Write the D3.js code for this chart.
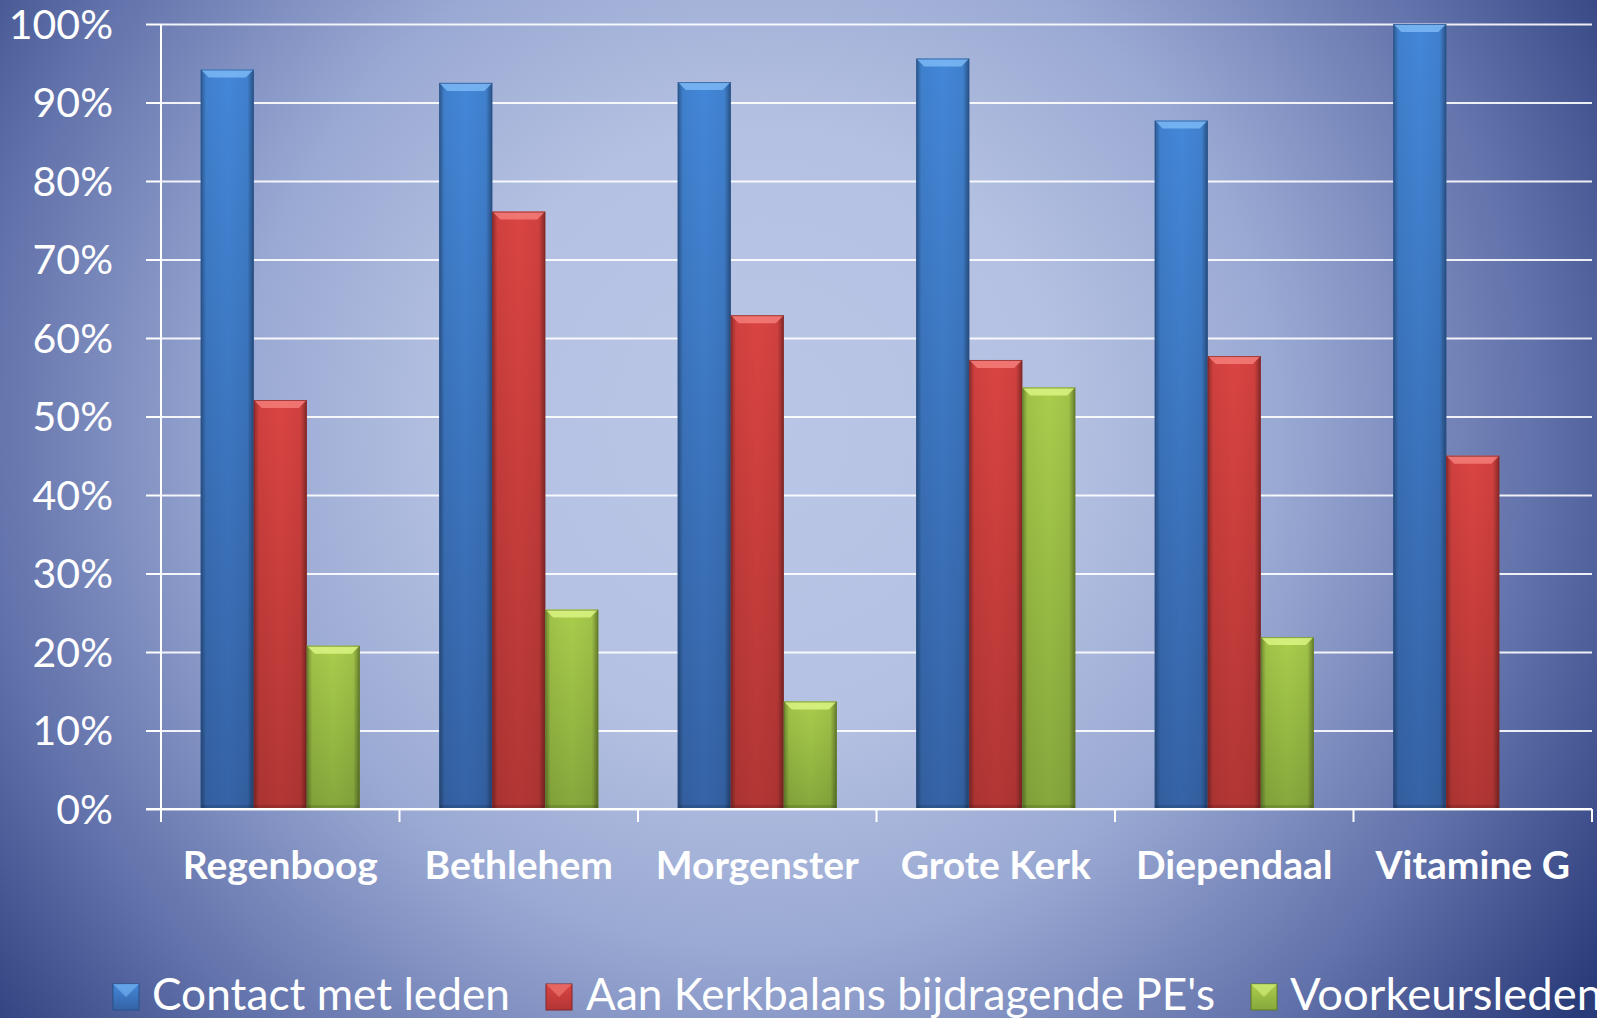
<!DOCTYPE html>
<html>
<head>
<meta charset="utf-8">
<script src="https://cdn.jsdelivr.net/npm/d3@7"></script>
<style>
  html, body { margin: 0; padding: 0; background: #3a4b88; }
  svg { display: block; }
</style>
</head>
<body>
<script>
// ---- DATA ----
const categories = ["Regenboog", "Bethlehem", "Morgenster", "Grote Kerk", "Diependaal", "Vitamine G"];
const seriesNames = ["Contact met leden", "Aan Kerkbalans bijdragende PE's", "Voorkeursleden"];
const contactMetLeden = [94.2, 92.5, 92.6, 95.6, 87.7, 100];
const kerkbalansPE = [52.1, 76.1, 62.9, 57.2, 57.7, 45.0];
const voorkeursleden = [20.8, 25.4, 13.7, 53.7, 21.9, null];
const yTicks = [0, 10, 20, 30, 40, 50, 60, 70, 80, 90, 100];

// ---- LAYOUT ----
const W = 1597, H = 1018;
const plotLeft = 161, plotRight = 1592, plotTop = 24, plotBottom = 809;

const seriesValues = [contactMetLeden, kerkbalansPE, voorkeursleden];
const colors = [
  { top: "#4387d8", bot: "#3563a6", bevel: "#7cb9f6", edge: "#28508c" },
  { top: "#da4442", bot: "#b23634", bevel: "#f47e7a", edge: "#802626" },
  { top: "#aacd4c", bot: "#86a83c", bevel: "#daf482", edge: "#5e7a26" }
];

const svg = d3.select("body").append("svg").attr("width", W).attr("height", H);
const defs = svg.append("defs");

// background
const bg = defs.append("radialGradient").attr("id", "bg")
  .attr("gradientUnits", "userSpaceOnUse")
  .attr("cx", 760).attr("cy", 430).attr("r", 1000);
[[0, "#bac6e6"], [0.3, "#b4c1e2"], [0.52, "#9aa9d3"], [0.78, "#6171aa"], [1, "#2a3b7a"]]
  .forEach(([o, c]) => bg.append("stop").attr("offset", o).attr("stop-color", c));
svg.append("rect").attr("width", W).attr("height", H).attr("fill", "url(#bg)");

// gradients for bars
colors.forEach((c, i) => {
  const g = defs.append("linearGradient").attr("id", "v" + i)
    .attr("x1", 0).attr("y1", 0).attr("x2", 0).attr("y2", 1);
  g.append("stop").attr("offset", 0).attr("stop-color", c.top);
  g.append("stop").attr("offset", 1).attr("stop-color", c.bot);
});
const hs = defs.append("linearGradient").attr("id", "hshade").attr("x1", 0).attr("x2", 1).attr("y1", 0).attr("y2", 0);
[[0, 0.35], [0.1, 0.05], [0.5, 0], [0.88, 0.05], [1, 0.4]]
  .forEach(([o, a]) => hs.append("stop").attr("offset", o).attr("stop-color", "#000").attr("stop-opacity", a));

// scales
const x0 = d3.scaleBand().domain(categories).range([plotLeft, plotRight]).paddingInner(0).paddingOuter(0);
const groupPad = x0.bandwidth() / 6;
const x1 = d3.scaleBand().domain(d3.range(seriesNames.length)).range([groupPad, x0.bandwidth() - groupPad]);
const y = d3.scaleLinear().domain([0, 100]).range([plotBottom, plotTop]);

// gridlines
const grid = svg.append("g").attr("transform", `translate(${plotLeft},0)`)
  .call(d3.axisLeft(y).tickValues(yTicks).tickSize(-(plotRight - plotLeft)).tickFormat(""));
grid.select(".domain").remove();
grid.selectAll("line").attr("stroke", "#ffffff").attr("stroke-width", 2).attr("stroke-opacity", 0.9);

// y axis with tick marks and labels
const yAxis = svg.append("g").attr("transform", `translate(${plotLeft},0)`)
  .call(d3.axisLeft(y).tickValues(yTicks).tickSize(15).tickPadding(33).tickFormat(d => d + "%"));
yAxis.select(".domain").attr("stroke", "#fff").attr("stroke-width", 2).attr("d", `M0,${plotTop}V${plotBottom + 13}`);
yAxis.selectAll("line").attr("stroke", "#fff").attr("stroke-width", 2);
yAxis.selectAll("text").attr("fill", "#fff").attr("font-family", "Lato, 'Open Sans', sans-serif")
  .attr("font-size", 41).attr("dy", "0.35em");

// bars
const groups = svg.append("g").selectAll("g").data(categories).join("g")
  .attr("transform", d => `translate(${x0(d)},0)`);
groups.each(function (cat, ci) {
  const g = d3.select(this);
  seriesValues.forEach((vals, si) => {
    const v = vals[ci];
    if (v == null) return;
    const bx = x1(si), bw = x1.bandwidth(), by = y(v), bh = plotBottom - y(v);
    const c = colors[si];
    g.append("rect").attr("x", bx).attr("y", by).attr("width", bw).attr("height", bh)
      .attr("fill", `url(#v${si})`);
    g.append("rect").attr("x", bx).attr("y", by).attr("width", bw).attr("height", bh)
      .attr("fill", "url(#hshade)");
    const b = 8;
    g.append("polygon")
      .attr("points", [[bx, by], [bx + bw, by], [bx + bw - b, by + b], [bx + b, by + b]].map(p => p.join(",")).join(" "))
      .attr("fill", c.bevel).attr("opacity", 0.85);
    g.append("rect").attr("x", bx).attr("y", plotBottom - 4).attr("width", bw).attr("height", 4)
      .attr("fill", "#000").attr("opacity", 0.12);
    g.append("rect").attr("x", bx + 0.5).attr("y", by + 0.5).attr("width", bw - 1).attr("height", bh - 1)
      .attr("fill", "none").attr("stroke", c.edge).attr("stroke-width", 1).attr("stroke-opacity", 0.7);
  });
});

// x axis
const xAxis = svg.append("g").attr("transform", `translate(0,${plotBottom})`)
  .call(d3.axisBottom(x0).tickSize(0).tickPadding(42));
xAxis.select(".domain").attr("stroke", "#fff").attr("stroke-width", 2).attr("d", `M${plotLeft - 15},0H${plotRight}`);
xAxis.selectAll("text").attr("fill", "#fff").attr("font-family", "Lato, 'Open Sans', sans-serif")
  .attr("font-weight", "bold").attr("font-size", 39);
// category boundary ticks
const boundaries = categories.map(c => x0(c)).concat([plotRight]);
svg.append("g").selectAll("line").data(boundaries).join("line")
  .attr("x1", d => d).attr("x2", d => d).attr("y1", plotBottom).attr("y2", plotBottom + 13)
  .attr("stroke", "#fff").attr("stroke-width", 2);

// legend
const legendItems = [
  { name: seriesNames[0], mx: 113, tx: 152, tw: 358 },
  { name: seriesNames[1], mx: 546, tx: 586, tw: 629 },
  { name: seriesNames[2], mx: 1251, tx: 1290, tw: 312 }
];
const legend = svg.append("g");
legendItems.forEach((it, i) => {
  const c = colors[i];
  const ms = 26, my = 984;
  legend.append("rect").attr("x", it.mx).attr("y", my).attr("width", ms).attr("height", ms)
    .attr("fill", `url(#v${i})`).attr("stroke", c.edge).attr("stroke-width", 1);
  legend.append("polygon")
    .attr("points", [[it.mx, my], [it.mx + ms, my], [it.mx + ms / 2, my + ms / 2]].map(p => p.join(",")).join(" "))
    .attr("fill", c.bevel).attr("opacity", 0.6);
  legend.append("text").attr("x", it.tx).attr("y", 1010)
    .attr("fill", "#fff").attr("font-family", "Lato, 'Open Sans', sans-serif").attr("font-size", 44)
    .attr("textLength", it.tw).attr("lengthAdjust", "spacingAndGlyphs")
    .text(it.name);
});
</script>
</body>
</html>
